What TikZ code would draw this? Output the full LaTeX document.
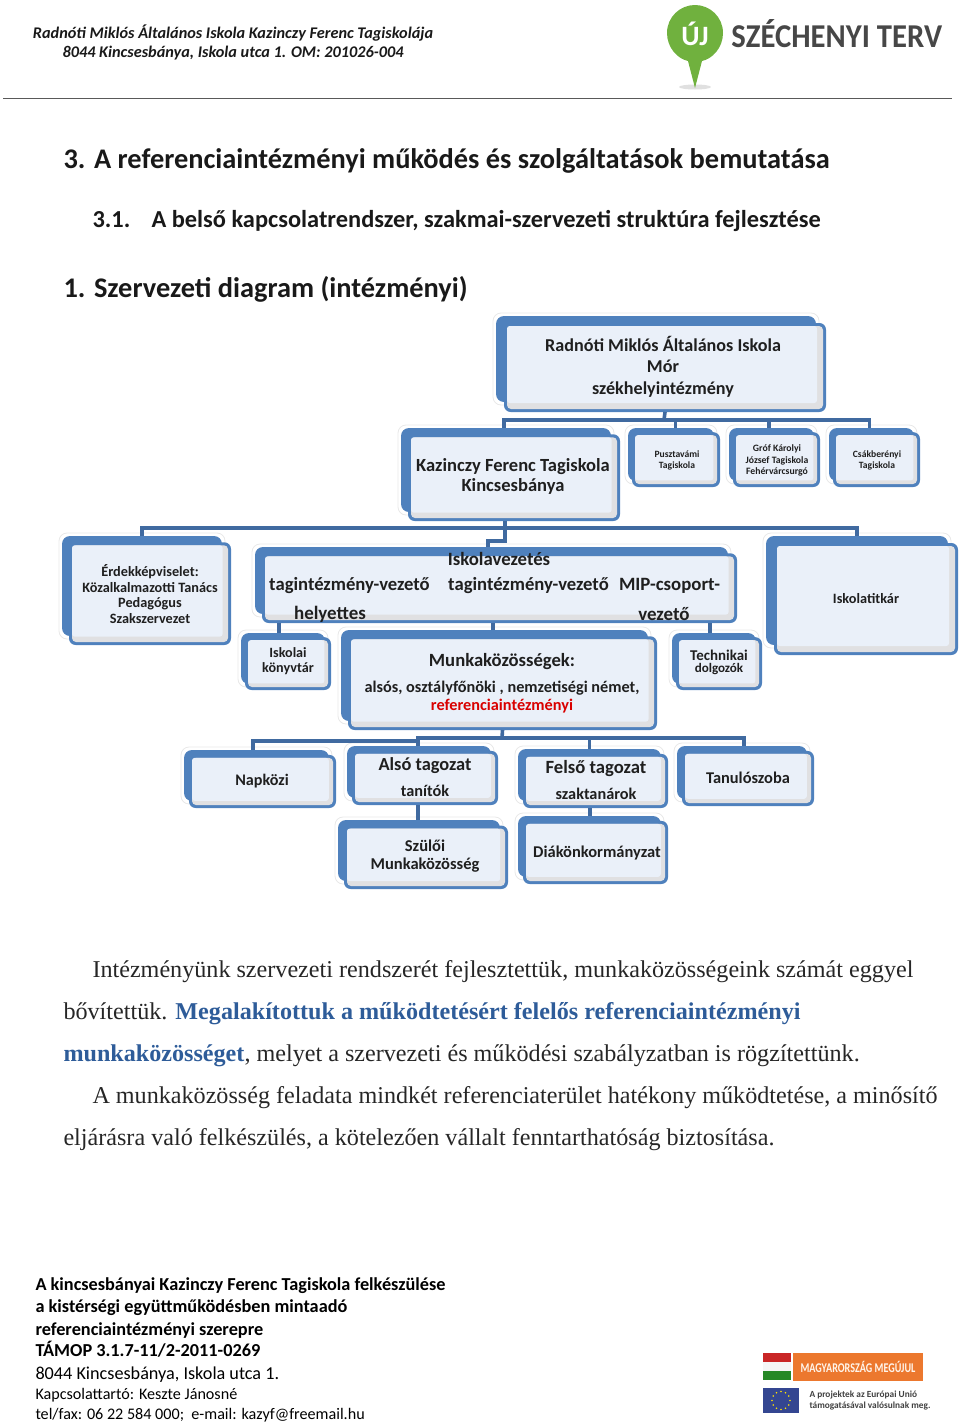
\documentclass[tikz,border=0pt]{standalone}
\usepackage{fontspec}
\setmainfont{Liberation Serif}
\newfontfamily\calfont{Carlito}
\usetikzlibrary{fit}

\definecolor{orgblue}{RGB}{79,129,189}
\definecolor{orgface}{RGB}{234,240,249}
\definecolor{orgband}{RGB}{224,224,226}
\definecolor{orgpale}{RGB}{232,232,232}
\definecolor{orgrule}{RGB}{64,106,160}
\definecolor{bodyblue}{RGB}{46,92,153}
\definecolor{pingreen}{RGB}{112,177,62}
\definecolor{orangebar}{RGB}{236,120,46}
\definecolor{euflag}{RGB}{52,70,145}

\tikzset{every picture/.style={line width=0.75pt}}
\tikzset{
  orgpart/.style={inner sep=0pt,outer sep=0pt,rectangle,rounded corners=#1},
  orgline/.style={draw=orgrule,line width=2.7pt},
  orgtext/.style={font=\calfont\bfseries\fontsize{#1}{#1}\selectfont,inner sep=0pt,align=center,text=black!88},
  headtext/.style={font=\calfont\bfseries\fontsize{#1}{#1}\selectfont,inner sep=0pt,anchor=base west,text=black!90},
  bodytext/.style={font=\fontsize{18.1}{18.1}\selectfont,inner sep=0pt,anchor=base west,text=black!85},
  foottext/.style={font=\calfont\fontsize{13.65}{13.65}\selectfont,inner sep=0pt,anchor=base west},
  footbold/.style={font=\calfont\bfseries\fontsize{13.7}{13.7}\selectfont,inner sep=0pt,anchor=base west},
  footsmall/.style={font=\calfont\fontsize{12.1}{12.1}\selectfont,inner sep=0pt,anchor=base west},
  schooltext/.style={font=\calfont\bfseries\itshape\fontsize{12.2}{12.2}\selectfont,inner sep=0pt,text=black!90},
  eutext/.style={font=\calfont\bfseries\fontsize{7}{7}\selectfont,text=black!75,inner sep=0pt,anchor=west},
}

% box: [corner step]{name}{x0}{y0}{x1}{y1}
\newcommand{\orgbox}[6][9]{
  \node[orgpart=6pt,draw=orgpale,line width=0.6pt,fit={(#3-3,#4-3)({#5-#1+3},{#6-#1+3})}] (#2-p) {};
  \node[orgpart=6pt,fill=orgblue,fit={(#3,#4)({#5-#1},{#6-#1})}] (#2) {};
  \node[orgpart=5pt,fill=orgblue,fit={({#3+#1-2},{#4+#1*0.7})(#5,#6)}] (#2-f) {};
  \node[orgpart=3pt,fill=orgband,fit={({#3+#1+1},{#4+#1*0.7+3})({#5-3},{#6-3})}] (#2-b) {};
  \node[orgpart=2pt,fill=orgface,fit={({#3+#1+1},{#4+#1*0.7+3})({#5-3-#1*0.6},{#6-3-#1*0.6})}] (#2-i) {};
}

\begin{document}
\begin{tikzpicture}[x=0.75pt,y=-0.75pt]
\useasboundingbox (0,0) rectangle (960,1424);

% header
\node[schooltext] (schoolname) at (233,33) {Radnóti Miklós Általános Iskola Kazinczy Ferenc Tagiskolája};
\node[schooltext] (schooladdr) at (233,53) {8044 Kincsesbánya, Iskola utca 1. OM: 201026-004};
\draw[line width=1.1pt,draw=black!65] (3,98.5) -- (952,98.5);

% pin logo
\fill[black!12] (695,87) ellipse (16 and 2.5);
\fill[pingreen] (695,5) .. controls (680,5) and (667,17) .. (667,33) .. controls (667,48) and (678,59) .. (688,61) -- (695,88) -- (702,61) .. controls (712,59) and (723,48) .. (723,33) .. controls (723,17) and (710,5) .. (695,5) -- cycle;
\node[font=\calfont\bfseries\fontsize{21}{21}\selectfont,text=white,inner sep=0pt] (pinletters) at (695,34) {ÚJ};
\node[font=\calfont\bfseries\fontsize{25}{25}\selectfont,text=black!72,inner sep=0pt,anchor=west,xscale=0.92] (terv) at (731,34) {SZÉCHENYI TERV};

% headings
\node[headtext=21.3] (head1) at (63,168) {3. A referenciaintézményi működés és szolgáltatások bemutatása};
\node[headtext=18.3] (head2a) at (92,227) {3.1.};
\node[headtext=18.3] (head2b) at (151,227) {A belső kapcsolatrendszer, szakmai-szervezeti struktúra fejlesztése};
\node[headtext=21.3] (head3) at (63,297) {1. Szervezeti diagram (intézményi)};

% boxes
\orgbox[10]{top}{496}{316}{826}{412}
\orgbox[9]{kaz}{401}{428}{620}{521}
\orgbox[6]{puszta}{628}{428}{720}{487}
\orgbox[6]{grof}{729}{428}{820}{487}
\orgbox[6]{csak}{829}{428}{920}{487}
\orgbox[9]{erdek}{62}{536}{231}{645}
\orgbox[9]{vezetes}{255}{547}{737}{623}
\orgbox[10]{titkar}{766}{536}{958}{655}
\orgbox[6]{konyvtar}{241}{633}{331}{690}
\orgbox[9]{munka}{341}{630}{657}{730}
\orgbox[6]{technikai}{672}{633}{762}{690}
\orgbox[7]{napkozi}{184}{750}{336}{808}
\orgbox[7]{also}{347}{746}{498}{805}
\orgbox[7]{felso}{518}{749}{668}{808}
\orgbox[7]{tanulo}{677}{746}{814}{806}
\orgbox[8]{szuloi}{338}{820}{508}{889}
\orgbox[7]{diak}{518}{816}{668}{884}

% connectors
\coordinate (topj) at (664,420);
\coordinate (kazj) at (505,528);
\coordinate (vezj) at (505,541);
\coordinate (munj) at (502,738);
\coordinate (munl) at (418,741);
\draw[orgline] (top-f.south) -- (topj);
\draw[orgline] ([xshift=-1.5pt]kaz.north) |- (topj);
\draw[orgline] (topj) -| ([xshift=3.5pt]puszta.north);
\draw[orgline] (topj) -| ([xshift=-2pt]grof.north);
\draw[orgline] (topj) -| ([xshift=-1.5pt]csak.north);
\draw[orgline] (kaz-f.south -| kazj) -- (kazj);
\draw[orgline] (erdek.north) |- (kazj);
\draw[orgline] (kazj) -| (titkar.north);
\draw[orgline] (kazj) -- (vezj) -| ([xshift=-2.6pt]vezetes.north);
\draw[orgline] (konyvtar.north -| 279,0) -- (vezetes-f.south -| 279,0);
\draw[orgline] (munka.north -| 493,0) -- (vezetes-f.south -| 493,0);
\draw[orgline] (technikai.north -| 710,0) -- (vezetes-f.south -| 710,0);
\draw[orgline] (munka-f.south) -- (munj);
\draw[orgline] (munj) -| (tanulo.north -| 744,0);
\draw[orgline] (munj) -- (munj -| munl) -- (munl);
\draw[orgline] (munl) -| (napkozi.north -| 253,0);
\draw[orgline] (munj -| felso.north) -- (felso.north);
\draw[orgline] (munl) -- (also.north -| munl);
\draw[orgline] (also-f.south -| munl) -- (szuloi.north -| munl);
\draw[orgline] (felso-f.south -| 590,0) -- (diak.north -| 590,0);

% box texts
\node[orgtext=13.6] (toplabel) at (663,366.5) {Radnóti Miklós Általános Iskola\\[2.4pt]Mór\\[2.4pt]székhelyintézmény};
\node[orgtext=13.9] (kazlabel) at (513,476.5) {Kazinczy Ferenc Tagiskola\\[0.8pt]Kincsesbánya};
\node[orgtext=7.2] (pusztalabel) at (677,460.5) {Pusztavámi\\[1.2pt]Tagiskola};
\node[orgtext=7.3] (groflabel) at (777,460.5) {Gróf Károlyi\\[1.2pt]József Tagiskola\\[1.2pt]Fehérvárcsurgó};
\node[orgtext=7.2] (csaklabel) at (877,460.5) {Csákberényi\\[1.2pt]Tagiskola};
\node[orgtext=10.7] (erdeklabel) at (150,594) {Érdekképviselet:\\[1.2pt]Közalkalmazotti Tanács\\[1.2pt]Pedagógus\\[1.2pt]Szakszervezet};
\node[orgtext=14.1] (veztop) at (499,559) {Iskolavezetés};
\node[orgtext=14] (vezone) at (349.5,586) {tagintézmény-vezető};
\node[orgtext=14] (veztwo) at (528.5,586) {tagintézmény-vezető};
\node[orgtext=14.1] (vezmip) at (669.5,586) {MIP-csoport-};
\node[orgtext=14.2] (vezhely) at (330,614) {helyettes};
\node[orgtext=14.2] (vezmipb) at (664,614) {vezető};
\node[orgtext=10.7] (titkarlabel) at (866,599) {Iskolatitkár};
\node[orgtext=10.6] (konyvlabel) at (288,661.5) {Iskolai\\[0.6pt]könyvtár};
\node[orgtext=14] (munkalabel) at (502,662) {Munkaközösségek:};
\node[orgtext=12.2] (munkalist) at (502,688) {alsós, osztályfőnöki , nemzetiségi német,};
\node[orgtext=12.2,text=red!85!black] (munkaref) at (502,706) {referenciaintézményi};
\node[orgtext=11.2] (techlabel) at (719,655) {Technikai};
\node[orgtext=9.8] (techlabelb) at (719,669) {dolgozók};
\node[orgtext=12.1] (napkozilabel) at (262,781) {Napközi};
\node[orgtext=13.8] (alsolabel) at (425,766) {Alsó tagozat};
\node[orgtext=12.2] (alsolabelb) at (425,791) {tanítók};
\node[orgtext=14] (felsolabel) at (596,769) {Felső tagozat};
\node[orgtext=12.2] (felsolabelb) at (596,794) {szaktanárok};
\node[orgtext=12.3] (tanulolabel) at (748,778) {Tanulószoba};
\node[orgtext=12.4] (szuloilabel) at (425,856) {Szülői\\[1.2pt]Munkaközösség};
\node[orgtext=12.35] (diaklabel) at (597,853) {Diákönkormányzat};

% body text
\node[bodytext] (bodya) at (92,977) {Intézményünk szervezeti rendszerét fejlesztettük, munkaközösségeink számát eggyel};
\node[bodytext] (bodyb) at (63,1019) {bővítettük. \textcolor{bodyblue}{\textbf{Megalakítottuk a működtetésért felelős referenciaintézményi}}};
\node[bodytext] (bodyc) at (63,1061) {\textcolor{bodyblue}{\textbf{munkaközösséget}}, melyet a szervezeti és működési szabályzatban is rögzítettünk.};
\node[bodytext] (bodyd) at (92,1103) {A munkaközösség feladata mindkét referenciaterület hatékony működtetése, a minősítő};
\node[bodytext] (bodye) at (63,1145) {eljárásra való felkészülés, a kötelezően vállalt fenntarthatóság biztosítása.};

% footer
\node[footbold] (foota) at (35,1290) {A kincsesbányai Kazinczy Ferenc Tagiskola felkészülése};
\node[footbold] (footb) at (35,1312) {a kistérségi együttműködésben mintaadó};
\node[footbold] (footc) at (35,1335) {referenciaintézményi szerepre};
\node[footbold] (footd) at (35,1356) {TÁMOP 3.1.7-11/2-2011-0269};
\node[foottext] (foote) at (35,1379) {8044 Kincsesbánya, Iskola utca 1.};
\node[footsmall] (footf) at (35,1399) {Kapcsolattartó: Keszte Jánosné};
\node[footsmall] (footg) at (35,1419) {tel/fax: 06 22 584 000;\ \ e-mail: kazyf@freemail.hu};

% flag and EU logos
\fill[red!75!black!85] (763,1353) rectangle (791,1362);
\fill[black!4] (763,1362) rectangle (791,1371);
\fill[green!45!black!85] (763,1371) rectangle (791,1380);
\fill[orangebar] (793,1353) rectangle (923,1381);
\node[font=\calfont\bfseries\fontsize{10}{10}\selectfont,text=white!92!orange,inner sep=0pt,xscale=0.76] (megujul) at (858,1367) {MAGYARORSZÁG MEGÚJUL};
\fill[euflag] (763,1388) rectangle (799,1413);
\foreach \a in {0,30,...,330} \fill[yellow!85!orange] (781,1400.5) ++(\a:9) circle (0.9);
\node[eutext] (eua) at (809,1395) {A projektek az Európai Unió};
\node[eutext] (eub) at (809,1406) {támogatásával valósulnak meg.};

\end{tikzpicture}
\end{document}
